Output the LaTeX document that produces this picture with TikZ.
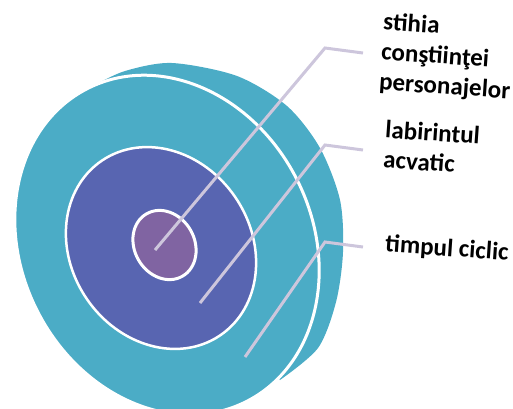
\documentclass[tikz,border=0pt]{standalone}
\usepackage{fontspec}
\setmainfont{Carlito}
\usetikzlibrary{shapes.geometric, positioning}
\definecolor{cT}{RGB}{75,172,198}
\definecolor{cM}{RGB}{88,101,177}
\definecolor{cI}{RGB}{128,100,162}
\definecolor{cL}{RGB}{205,198,220}

\begin{document}
\begin{tikzpicture}[x=1pt, y=-1pt,
   disc/.style={ellipse, inner sep=0pt, outer sep=0pt},
   lead/.style={draw=cL, line width=3pt},
   lbl/.style={anchor=north west, align=left, rotate=-4, inner sep=0pt,
      font=\bfseries\fontsize{25}{30}\selectfont}]
   \useasboundingbox (0,0) rectangle (513,408);

   % Back rim of the outer disc
   \fill[cT] plot[smooth] coordinates {(93,86) (125,71) (172,63) (237,76)
      (287,106) (320,148) (340,200) (343,252) (336,302) (318,348) (280,380)}
      -- (170,240) -- cycle;

   % Discs, from back to front
   \node[disc, rotate=27, fill=cT, draw=white, line width=3pt,
      minimum width=291pt, minimum height=351pt] (front) at (167,245) {};
   \node[disc, rotate=34, fill=cM, draw=white, line width=2.5pt,
      minimum width=180pt, minimum height=211pt] (mid) at (161,248) {};
   \node[disc, rotate=30, fill=cI, draw=white, line width=3pt,
      minimum width=60pt, minimum height=72pt] (core) at (164.5,245) {};

   % Labels
   \node[lbl] (stihia) at (384,12) {stihia\\conştiinţei\\personajelor};
   \node[lbl] (labirint) at (386,120) {labirintul\\acvatic};
   \node[lbl] (timp) at (386,234) {timpul ciclic};

   % Leader lines
   \coordinate (s1) at (155,250);
   \coordinate (k1) at (325,48);
   \coordinate (e1) at (363,53);
   \coordinate (s2) at (200,303);
   \coordinate (k2) at (325,145);
   \coordinate (e2) at (363,150);
   \coordinate (s3) at (245,357);
   \coordinate (k3) at (325,242);
   \coordinate (e3) at (363,247);
   \draw[lead] (s1) -- (k1) -- (e1);
   \draw[lead] (s2) -- (k2) -- (e2);
   \draw[lead] (s3) -- (k3) -- (e3);
\end{tikzpicture}
\end{document}
